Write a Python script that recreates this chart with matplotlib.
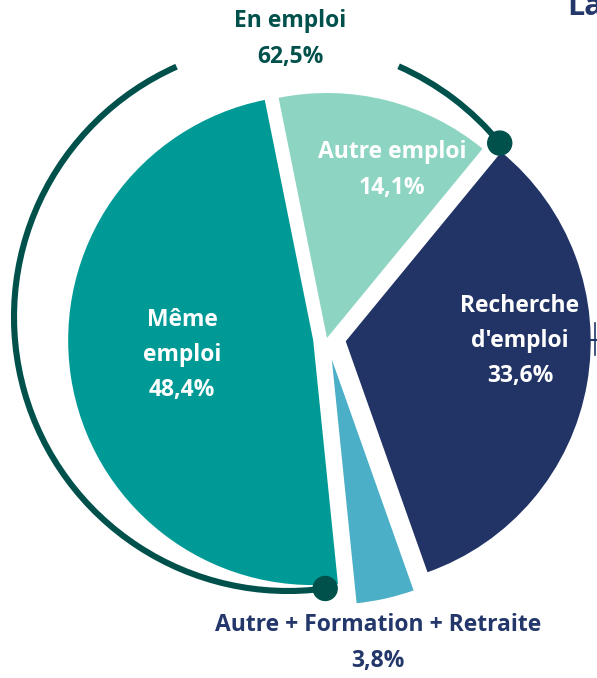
import numpy as np
import matplotlib
matplotlib.use("Agg")
from matplotlib import pyplot as plt
from matplotlib.patches import Arc, Circle

# data (counterclockwise from the bottom edge of "Recherche d'emploi")
categories = ["Recherche\nd'emploi", "Autre emploi", "Même\nemploi", "Autre + Formation + Retraite"]
values = [33.6, 14.1, 48.4, 3.8]
group_label = "En emploi"
group_value = 62.5

colors = ["#223466", "#8dd5c2", "#009a96", "#4bafc7"]
dark_teal = "#00514c"
navy = "#23376a"

W, H = 597, 678
plt.rcParams['font.family'] = ['Open Sans', 'DejaVu Sans']


def fr(v):
    return f"{v:.1f}".replace('.', ',') + '%'


def py(y):
    # pixel row -> data y
    return H - y


fig = plt.figure(figsize=(W / 100, H / 100), dpi=100)
ax = fig.add_axes([0, 0, 1, 1])

radius = 245
center = (327, py(338))
explode = [19, 0, 14, 22]
ax.pie(values, colors=colors, startangle=-70.5, counterclock=True,
       radius=radius, center=center, explode=explode,
       wedgeprops=dict(linewidth=0))

# arc around the "En emploi" group
arc_c = (288, py(317))
arc_r = 274
arc_lw = 4.4
a_end, gap1, gap2, a_start = 39.4, 66.2, 114.0, 277.8
for t1, t2 in [(a_end, gap1), (gap2, a_start)]:
    ax.add_patch(Arc(arc_c, 2 * arc_r, 2 * arc_r, theta1=t1, theta2=t2,
                     color=dark_teal, lw=arc_lw, zorder=4))
for ang in (a_end, a_start):
    x = arc_c[0] + arc_r * np.cos(np.radians(ang))
    y = arc_c[1] + arc_r * np.sin(np.radians(ang))
    ax.add_patch(Circle((x, y), 12, color=dark_teal, zorder=5))

# labels
fs = 16.5
ls = 1.62
ax.text(290, py(39), group_label + "\n" + fr(group_value), ha='center', va='center',
        fontsize=fs, fontweight='bold', color=dark_teal, linespacing=ls)
label_pos = [(520, 341), (392, 170), (182, 355), (378, 643)]
label_col = ["white", "white", "white", navy]
for cat, v, (x, y), c in zip(categories, values, label_pos, label_col):
    ax.text(x, py(y), cat + "\n" + fr(v), ha='center', va='center',
            fontsize=fs, fontweight='bold', color=c, linespacing=ls, zorder=6)

# bits of the neighbouring graphic, cut by the frame
ax.text(567, py(15), "La", ha='left', va='baseline', fontsize=22,
        fontweight='bold', color=navy)
ax.plot([595, 595], [py(323), py(355)], color=navy, lw=1.2)
ax.plot([590, 598], [py(340), py(340)], color=navy, lw=1.5)

ax.set_xlim(0, W)
ax.set_ylim(0, H)
ax.set_aspect('auto')
ax.set_axis_off()

fig.savefig("out.png", dpi=100)
